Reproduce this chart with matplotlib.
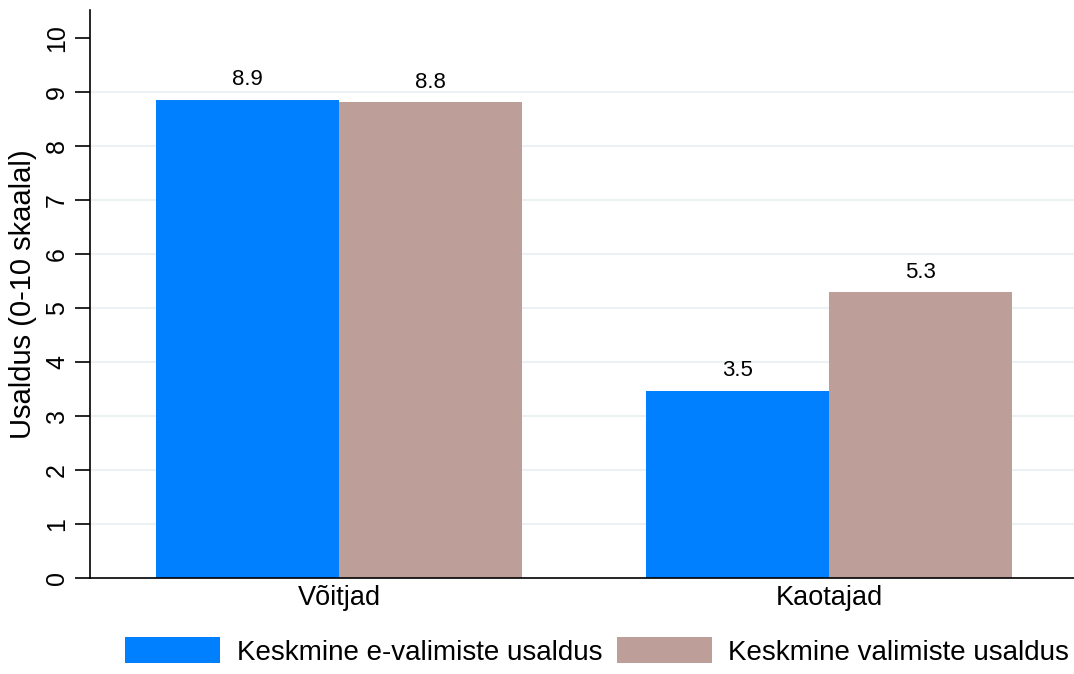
import matplotlib.pyplot as plt
import numpy as np

plt.rcParams['font.family'] = ['Liberation Sans', 'DejaVu Sans']

#data
groups = ["Võitjad", "Kaotajad"]
e_trust = [8.86, 3.47]
trust = [8.81, 5.30]
series_names = ["Keskmine e-valimiste usaldus", "Keskmine valimiste usaldus"]
blue = "#0080ff"
brown = "#bd9e98"

fig = plt.figure(figsize=(10.74, 6.74), dpi=100)
ax = fig.add_axes([90/1074, 96/674, 984/1074, 568/674])

x = np.arange(len(groups))
w = 0.3735
b1 = ax.bar(x - w/2, e_trust, width=w, color=blue, label=series_names[0], zorder=2)
b2 = ax.bar(x + w/2, trust, width=w, color=brown, label=series_names[1], zorder=2)

#value labels on top of bars
for bars, vals in ((b1, e_trust), (b2, trust)):
    for rect, v in zip(bars, vals):
        ax.text(rect.get_x() + rect.get_width()/2, v + 0.17, f"{v:.1f}",
                ha="center", va="bottom", fontsize=16)

ax.set_xlim(-0.508, 1.5)
ax.set_ylim(0, 10.52)
ax.set_yticks(range(0, 11))
ax.set_yticklabels([str(i) for i in range(0, 11)], rotation=90, va="center", fontsize=18)
for yv in range(1, 10):
    ax.axhline(yv, color="#eaf2f3", lw=1.5, zorder=1)
ax.set_xticks(x)
ax.set_xticklabels(groups, fontsize=19.5)
ax.tick_params(axis="x", length=0, pad=5)
ax.tick_params(axis="y", length=11, width=1.2, pad=4)
ax.spines["top"].set_visible(False)
ax.spines["right"].set_visible(False)
ax.spines["left"].set_linewidth(1.2)
ax.spines["bottom"].set_linewidth(1.2)
ax.set_ylabel("Usaldus (0-10 skaalal)", fontsize=21, labelpad=6)

fig.legend(handles=[b1, b2], loc="lower right", bbox_to_anchor=(1.006, -0.004),
           ncol=2, frameon=False, fontsize=20, handlelength=3.4, handleheight=1.05,
           handletextpad=0.6, columnspacing=0.55, borderaxespad=0.0)

plt.savefig("out.png", dpi=100)
